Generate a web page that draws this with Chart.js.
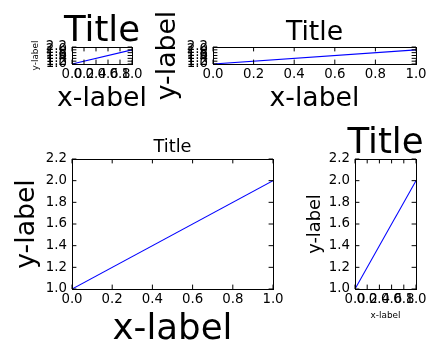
<!DOCTYPE html>
<html>
<head>
<meta charset="utf-8">
<script src="https://cdn.jsdelivr.net/npm/chart.js@4/dist/chart.umd.min.js"></script>
<style>
  body { margin: 0; background: #fff; }
  #wrap { position: relative; width: 440px; height: 360px; }
  #wrap canvas { position: absolute; left: 0; top: 0; }
</style>
</head>
<body>
<div id="wrap">
  <canvas id="ax1" width="440" height="360"></canvas>
  <canvas id="ax2" width="440" height="360"></canvas>
  <canvas id="ax3" width="440" height="360"></canvas>
  <canvas id="ax4" width="440" height="360"></canvas>
</div>
<script>
// the same line goes in all four panels
var xValues = [0, 1];
var yValues = [1, 2];
var xTickValues = [0.0, 0.2, 0.4, 0.6, 0.8, 1.0];
var yTickValues = [1.0, 1.2, 1.4, 1.6, 1.8, 2.0, 2.2];
var titleText = 'Title';
var xLabelText = 'x-label';
var yLabelText = 'y-label';

var FONT = "'DejaVu Sans', sans-serif";
var PT = 80 / 72;   // matplotlib points -> px

// how far (in em) the alphabetic baseline sits below canvas 'middle'
function middleOffset() {
  var c = document.createElement('canvas').getContext('2d');
  c.font = '100px ' + FONT;
  c.textBaseline = 'alphabetic';
  var a = c.measureText('T').actualBoundingBoxAscent;
  c.textBaseline = 'middle';
  var m = c.measureText('T').actualBoundingBoxAscent;
  var d = (a - m) / 100;
  return isFinite(d) && d > 0 ? d : 0.346;
}
var MID = middleOffset();

// plot box [left, top, right, bottom], font sizes in pt, label baselines in px
var panels = [
  { id: 'ax1', box: [72, 47, 132, 64],    title: 32, xlab: 24, ylab: 8,  xBase: 106,   yBase: 37.5 },
  { id: 'ax2', box: [213, 47, 416, 64],   title: 24, xlab: 24, ylab: 24, xBase: 106,   yBase: 175.3 },
  { id: 'ax3', box: [72, 159, 273, 289],  title: 16, xlab: 32, ylab: 24, xBase: 339.3, yBase: 34 },
  { id: 'ax4', box: [355, 159, 416, 289], title: 32, xlab: 8,  ylab: 16, xBase: 318,   yBase: 320 }
];

// box frame + inward ticks on all four sides
var frameTicks = {
  id: 'frameTicks',
  afterDraw: function (chart) {
    var a = chart.chartArea, ctx = chart.ctx, len = 4.4;
    var sx = chart.scales.x, sy = chart.scales.y;
    ctx.save();
    ctx.strokeStyle = '#000';
    ctx.lineWidth = 1;
    ctx.beginPath();
    sx.ticks.forEach(function (t) {
      var px = sx.getPixelForValue(t.value);
      ctx.moveTo(px, a.bottom); ctx.lineTo(px, a.bottom - len);
      ctx.moveTo(px, a.top); ctx.lineTo(px, a.top + len);
    });
    sy.ticks.forEach(function (t) {
      var py = sy.getPixelForValue(t.value);
      ctx.moveTo(a.left, py); ctx.lineTo(a.left + len, py);
      ctx.moveTo(a.right, py); ctx.lineTo(a.right - len, py);
    });
    ctx.stroke();
    ctx.strokeRect(Math.round(a.left) + 0.5, Math.round(a.top) + 0.5,
      Math.round(a.right) - Math.round(a.left), Math.round(a.bottom) - Math.round(a.top));
    ctx.restore();
  }
};

function makeChart(p) {
  var L = p.box[0], T = p.box[1], R = p.box[2], B = p.box[3];
  var ft = p.title * PT, fx = p.xlab * PT, fy = p.ylab * PT;

  // title above the box
  var tMid = (T - 6.5) - MID * ft;
  var padTop = tMid - ft / 2;
  var titleGap = T - tMid - ft / 2;
  // tick label band, then the x-label (subtitle at the bottom)
  var xTickBand = p.xBase - MID * fx - fx / 2 - B;
  var padBottom = 360 - (B + xTickBand + fx);
  // y-label sits in the left axis box; an empty right axis of the same width keeps things centred
  var padLeft = p.yBase - (0.5 + MID) * fy;
  var yWidth = L - padLeft;
  var padRight = 440 - R - yWidth;

  var points = xValues.map(function (x, i) { return { x: x, y: yValues[i] }; });

  return new Chart(document.getElementById(p.id), {
    type: 'line',
    data: {
      datasets: [{
        data: points,
        borderColor: '#0000ff',
        borderWidth: 1.1,
        pointRadius: 0,
        fill: false,
        tension: 0
      }]
    },
    options: {
      responsive: false,
      animation: false,
      devicePixelRatio: 1,
      layout: { padding: { left: padLeft, top: padTop, right: padRight, bottom: padBottom } },
      plugins: {
        legend: { display: false },
        tooltip: { enabled: false },
        title: {
          display: true,
          text: titleText,
          color: '#000',
          font: { family: FONT, size: ft, weight: 'normal', lineHeight: 1 },
          padding: { top: 0, bottom: titleGap }
        },
        subtitle: {
          display: true,
          position: 'bottom',
          text: xLabelText,
          color: '#000',
          font: { family: FONT, size: fx, weight: 'normal', lineHeight: 1 },
          padding: 0
        }
      },
      scales: {
        x: {
          type: 'linear', min: 0, max: 1,
          grid: { display: false, drawTicks: false },
          border: { display: false },
          afterBuildTicks: function (s) { s.ticks = xTickValues.map(function (v) { return { value: v }; }); },
          ticks: {
            autoSkip: false, maxRotation: 0, minRotation: 0, padding: 3, color: '#000',
            font: { family: FONT, size: 12 * PT },
            callback: function (v) { return Number(v).toFixed(1); }
          },
          afterFit: function (s) { s.height = xTickBand; s.paddingLeft = 0; s.paddingRight = 0; }
        },
        y: {
          type: 'linear', min: 1, max: 2.2,
          grid: { display: false, drawTicks: false },
          border: { display: false },
          afterBuildTicks: function (s) { s.ticks = yTickValues.map(function (v) { return { value: v }; }); },
          ticks: {
            autoSkip: false, padding: 5, color: '#000',
            font: { family: FONT, size: 12 * PT },
            callback: function (v) { return Number(v).toFixed(1); }
          },
          title: {
            display: true, text: yLabelText, color: '#000', padding: 0,
            font: { family: FONT, size: fy, lineHeight: 1 }
          },
          afterFit: function (s) { s.width = yWidth; s.paddingTop = 0; s.paddingBottom = 0; }
        },
        yRight: {
          type: 'linear', position: 'right', min: 1, max: 2.2,
          grid: { display: false, drawTicks: false },
          border: { display: false },
          ticks: { display: false },
          afterFit: function (s) { s.width = yWidth; s.paddingTop = 0; s.paddingBottom = 0; }
        }
      }
    },
    plugins: [frameTicks]
  });
}

document.addEventListener("DOMContentLoaded", function () {
  panels.forEach(makeChart);
});
</script>
</body>
</html>
